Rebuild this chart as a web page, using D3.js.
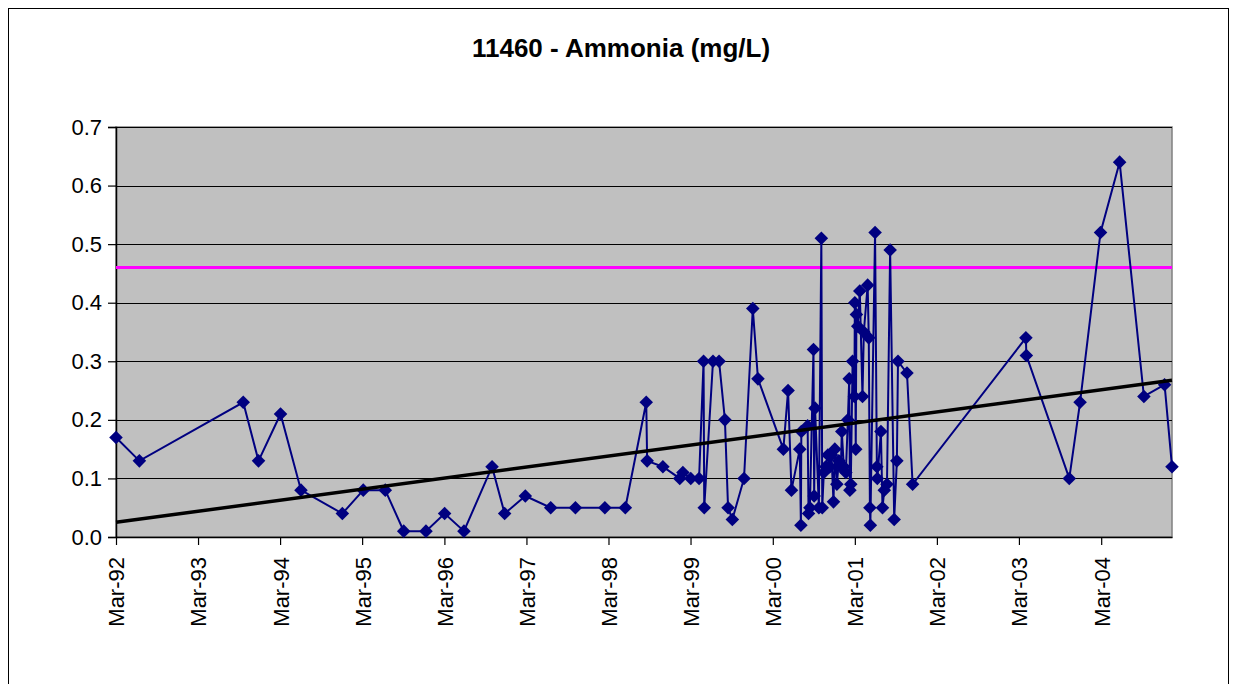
<!DOCTYPE html>
<html>
<head>
<meta charset="utf-8">
<script src="https://cdn.jsdelivr.net/npm/d3@7"></script>
<style>
	body { margin: 0; background: #fff; }
	text { font-family: Arial, "Liberation Sans", sans-serif; }
</style>
</head>
<body>
<svg id="chart" width="1235" height="684"></svg>
<script>
// sample dates and ammonia values (mg/L)
var sampleDates = [
	'1992-03-01','1992-06-13','1993-09-18','1993-11-25','1994-03-03','1994-06-02','1994-12-03',
	'1995-03-06','1995-06-12','1995-09-02','1995-12-10','1996-03-02','1996-05-27','1996-09-29',
	'1996-11-24','1997-02-24','1997-06-17','1997-10-05','1998-02-13','1998-05-15','1998-08-16',
	'1998-08-20','1998-10-29','1999-01-12','1999-01-26','1999-03-02','1999-04-08','1999-04-28',
	'1999-05-01','1999-06-09','1999-07-06','1999-08-01','1999-08-15','1999-09-03','1999-10-25',
	'1999-12-03','1999-12-26',
	'2000-04-17','2000-05-08','2000-05-23','2000-06-29','2000-07-04','2000-07-06','2000-08-03',
	'2000-08-07','2000-08-13','2000-08-29','2000-09-01','2000-09-05','2000-09-22','2000-10-03',
	'2000-10-07','2000-10-14','2000-10-23','2000-11-01','2000-11-10','2000-11-17','2000-11-26',
	'2000-12-02','2000-12-11','2000-12-20','2000-12-29','2001-01-02','2001-01-11','2001-01-20',
	'2001-01-29','2001-02-04','2001-02-07','2001-02-11','2001-02-19','2001-02-27','2001-03-01',
	'2001-03-05','2001-03-08','2001-03-14','2001-03-23','2001-04-04','2001-04-10','2001-04-27',
	'2001-05-02','2001-05-07','2001-05-09','2001-05-30','2001-06-07','2001-06-09','2001-06-25',
	'2001-07-02','2001-07-10','2001-07-22','2001-08-05','2001-08-23','2001-09-04','2001-09-09',
	'2001-10-19','2001-11-13',
	'2003-04-01','2003-04-03','2003-10-11','2003-11-28','2004-02-27','2004-05-22','2004-09-07',
	'2004-12-08','2005-01-10'
];
var ammonia = [
	0.17,0.13,0.23,0.13,0.21,0.08,0.04,
	0.08,0.08,0.01,0.01,0.04,0.01,0.12,
	0.04,0.07,0.05,0.05,0.05,0.05,0.23,
	0.13,0.12,0.10,0.11,0.10,0.10,0.30,
	0.05,0.30,0.30,0.20,0.05,0.03,0.10,
	0.39,0.27,
	0.15,0.25,0.08,0.15,0.02,0.18,0.19,
	0.04,0.05,0.32,0.07,0.22,0.05,0.51,
	0.05,0.11,0.12,0.14,0.12,0.14,0.06,
	0.15,0.09,0.13,0.12,0.18,0.12,0.11,
	0.20,0.27,0.08,0.09,0.30,0.24,0.40,
	0.15,0.38,0.36,0.42,0.24,0.35,0.43,
	0.34,0.05,0.02,0.52,0.12,0.10,0.18,
	0.05,0.08,0.09,0.49,0.03,0.13,0.30,
	0.28,0.09,
	0.34,0.31,0.10,0.23,0.52,0.64,0.24,
	0.26,0.12
];
var guideline = 0.46;
var yTicks = [0, 0.1, 0.2, 0.3, 0.4, 0.5, 0.6, 0.7];
var tickYears = [1992,1993,1994,1995,1996,1997,1998,1999,2000,2001,2002,2003,2004];
var chartTitle = '11460 - Ammonia (mg/L)';

var parse = d3.timeParse('%Y-%m-%d');
var points = sampleDates.map(function(d, i){
	return {date: parse(d), value: ammonia[i]};
});

var svg = d3.select('#chart');
var plot = {left: 116, right: 1172, top: 127, bottom: 537};

// outer chart border
svg.append('rect')
	.attr('x', 8.5).attr('y', 8.5)
	.attr('width', 1220).attr('height', 700)
	.attr('fill', '#fff')
	.attr('stroke', '#000')
	.attr('stroke-width', 1);

var x = d3.scaleTime()
	.domain(d3.extent(points, function(d){ return d.date; }))
	.range([plot.left, plot.right]);
var y = d3.scaleLinear()
	.domain([0, 0.7])
	.range([plot.bottom, plot.top]);

// plot area background
svg.append('rect')
	.attr('x', plot.left).attr('y', plot.top)
	.attr('width', plot.right - plot.left)
	.attr('height', plot.bottom - plot.top)
	.attr('fill', '#c0c0c0')
	.attr('stroke', '#808080')
	.attr('stroke-width', 1.5);

// horizontal gridlines
svg.append('g')
	.selectAll('line')
	.data(yTicks.slice(1))
	.enter()
	.append('line')
	.attr('x1', plot.left).attr('x2', plot.right)
	.attr('y1', function(d){ return Math.round(y(d)) + 0.5; })
	.attr('y2', function(d){ return Math.round(y(d)) + 0.5; })
	.attr('stroke', '#000')
	.attr('stroke-width', 1);

// y axis
var yAxis = svg.append('g')
	.attr('transform', 'translate(' + plot.left + ',0)')
	.call(d3.axisLeft(y).tickValues(yTicks).tickFormat(d3.format('.1f')).tickSize(8).tickPadding(6));
yAxis.select('.domain').attr('stroke', '#000').attr('stroke-width', 1.5);
yAxis.selectAll('.tick line').attr('stroke', '#000').attr('stroke-width', 1.2);
yAxis.selectAll('text')
	.attr('font-size', 22)
	.attr('fill', '#000');

// x axis, one tick each March
var marchTicks = tickYears.map(function(yr){ return new Date(yr, 2, 1); });
var xAxis = svg.append('g')
	.attr('transform', 'translate(0,' + plot.bottom + ')')
	.call(d3.axisBottom(x).tickValues(marchTicks).tickFormat(d3.timeFormat('%b-%y')).tickSize(8).tickSizeOuter(0));
xAxis.select('.domain').attr('stroke', '#000').attr('stroke-width', 1.5);
xAxis.selectAll('.tick line').attr('stroke', '#000').attr('stroke-width', 1.2);
xAxis.selectAll('text')
	.attr('font-size', 22)
	.attr('fill', '#000')
	.attr('text-anchor', 'end')
	.attr('transform', 'rotate(-90)')
	.attr('x', -20)
	.attr('y', 0)
	.attr('dy', '0.36em');

// guideline
svg.append('line')
	.attr('x1', plot.left).attr('x2', plot.right)
	.attr('y1', y(guideline)).attr('y2', y(guideline))
	.attr('stroke', '#ff00ff')
	.attr('stroke-width', 3);

// data line
var line = d3.line()
	.x(function(d){ return x(d.date); })
	.y(function(d){ return y(d.value); });
svg.append('path')
	.datum(points)
	.attr('d', line)
	.attr('fill', 'none')
	.attr('stroke', '#000080')
	.attr('stroke-width', 2);

// diamond markers
var diamond = d3.symbol().type(d3.symbolSquare).size(92);
svg.append('g')
	.selectAll('path')
	.data(points)
	.enter()
	.append('path')
	.attr('d', diamond)
	.attr('transform', function(d){ return 'translate(' + x(d.date) + ',' + y(d.value) + ') rotate(45)'; })
	.attr('fill', '#000080');

// linear trend line (least squares over time)
var xs = points.map(function(d){ return +d.date; });
var mx = d3.mean(xs), my = d3.mean(ammonia);
var sxy = d3.sum(xs, function(v, i){ return (v - mx) * (ammonia[i] - my); });
var sxx = d3.sum(xs, function(v){ return (v - mx) * (v - mx); });
var slope = sxy / sxx, icpt = my - slope * mx;
var ends = x.domain();
svg.append('line')
	.attr('x1', x(ends[0])).attr('y1', y(icpt + slope * ends[0]))
	.attr('x2', x(ends[1])).attr('y2', y(icpt + slope * ends[1]))
	.attr('stroke', '#000')
	.attr('stroke-width', 3.5);

// title
svg.append('text')
	.attr('x', 621)
	.attr('y', 57)
	.attr('text-anchor', 'middle')
	.attr('font-size', 26)
	.attr('font-weight', 'bold')
	.text(chartTitle);
</script>
</body>
</html>
